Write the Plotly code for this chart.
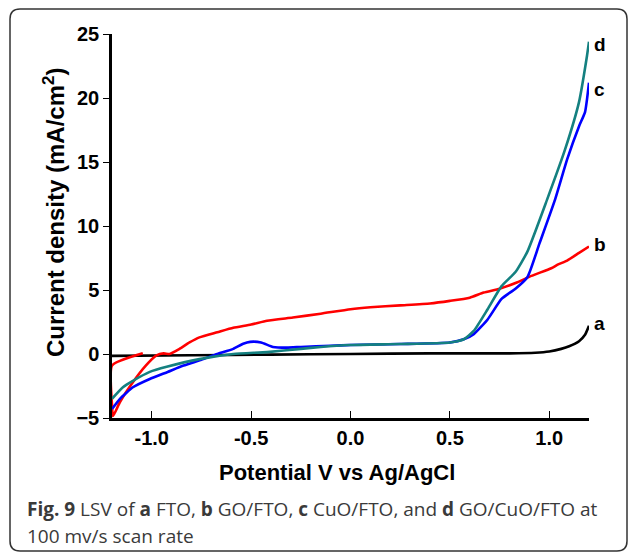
import plotly.graph_objects as go

# ---- data ----
v_a = [-1.2, -0.8, -0.4, 0.0, 0.4, 0.8, 0.93, 1.0, 1.06, 1.1, 1.15, 1.18, 1.2]
j_a = [-0.15, -0.1, -0.05, 0.0, 0.05, 0.05, 0.1, 0.2, 0.4, 0.6, 1.0, 1.5, 2.2]

v_b = [-1.045, -1.2, -1.2, -1.195, -1.16, -1.095, -1.03, -0.976, -0.94, -0.91, -0.86, -0.81,
       -0.76, -0.67, -0.59, -0.5, -0.42, -0.29, -0.15, 0.0, 0.1, 0.25, 0.4, 0.5, 0.6, 0.67,
       0.75, 0.84, 0.91, 1.01, 1.045, 1.09, 1.15, 1.2]
j_b = [0.05, -0.9, -4.0, -4.85, -3.75, -2.2, -0.9, -0.1, 0.05, 0.0, 0.4, 0.9,
       1.3, 1.7, 2.05, 2.3, 2.6, 2.85, 3.15, 3.5, 3.65, 3.8, 3.95, 4.15, 4.4, 4.8,
       5.1, 5.6, 6.1, 6.7, 7.0, 7.3, 7.9, 8.4]

v_c = [-1.2, -1.16, -1.095, -1.01, -0.92, -0.84, -0.75, -0.67, -0.59, -0.54, -0.505, -0.45,
       -0.39, -0.32, -0.25, -0.1, 0.0, 0.25, 0.5, 0.57, 0.62, 0.69, 0.76, 0.83, 0.89, 0.95,
       1.03, 1.09, 1.15, 1.18, 1.2]
j_c = [-4.3, -3.5, -2.6, -1.95, -1.4, -0.9, -0.45, 0.0, 0.4, 0.8, 0.95, 0.9,
       0.55, 0.5, 0.55, 0.65, 0.7, 0.78, 0.9, 1.15, 1.55, 2.7, 4.3, 5.1, 6.0, 8.6,
       12.1, 15.2, 17.8, 18.9, 21.2]

v_d = [-1.2, -1.145, -1.095, -1.01, -0.925, -0.76, -0.59, -0.42, -0.25, -0.15, 0.0, 0.25,
       0.5, 0.57, 0.62, 0.69, 0.76, 0.83, 0.89, 0.99, 1.08, 1.15, 1.19, 1.2]
j_d = [-3.5, -2.6, -2.1, -1.4, -1.0, -0.4, 0.0, 0.15, 0.4, 0.55, 0.7, 0.78,
       0.9, 1.15, 1.8, 3.5, 5.3, 6.4, 8.0, 12.1, 16.0, 19.7, 23.3, 24.4]

x_ticks = [-1.0, -0.5, 0.0, 0.5, 1.0]
x_ticktext = ["-1.0", "-0.5", "0.0", "0.5", "1.0"]
y_ticks = [-5, 0, 5, 10, 15, 20, 25]

series = [
    ("a", v_a, j_a, "#000000", 2),
    ("b", v_b, j_b, "#ff0000", 2),
    ("c", v_c, j_c, "#0000ff", -7),
    ("d", v_d, j_d, "#148080", -3),
]

W, H = 629, 554
L, R, T, B = 112, 589, 34, 418

def px_x(p):
    return (p - L) / (R - L)

def px_y(p):
    return (B - p) / (B - T)

fig = go.Figure()
for name, xs, ys, col, _ in series:
    fig.add_trace(go.Scatter(x=xs, y=ys, mode="lines", name=name,
                             line=dict(color=col, width=2.6, shape="spline", smoothing=0.5),
                             showlegend=False, hoverinfo="skip"))

annotations = []
for name, xs, ys, col, ysh in series:
    annotations.append(dict(x=xs[-1], y=ys[-1], xref="x", yref="y", text="<b>%s</b>" % name,
                            showarrow=False, xanchor="left", yanchor="middle", xshift=3, yshift=ysh,
                            font=dict(family="Liberation Sans, Arial", size=19, color="#000")))

annotations.append(dict(x=px_x(336.5), y=px_y(472), xref="paper", yref="paper",
                        text="<b>Potential V vs Ag/AgCl</b>", showarrow=False,
                        xanchor="center", yanchor="middle",
                        font=dict(family="Liberation Sans, Arial", size=22, color="#000")))
annotations.append(dict(x=px_x(54), y=px_y(213), xref="paper", yref="paper",
                        text="<b>Current density (mA/cm<sup>2</sup>)</b>", showarrow=False,
                        textangle=-90, xanchor="center", yanchor="middle",
                        font=dict(family="Liberation Sans, Arial", size=24, color="#000")))
annotations.append(dict(x=px_x(25), y=px_y(509), xref="paper", yref="paper",
                        text="<b>Fig. 9</b> LSV of <b>a</b> FTO, <b>b</b> GO/FTO, <b>c</b> CuO/FTO, and <b>d</b> GO/CuO/FTO at",
                        showarrow=False, xanchor="left", yanchor="middle", align="left",
                        font=dict(family="Open Sans", size=19, color="#3a3a3a")))
annotations.append(dict(x=px_x(25), y=px_y(536), xref="paper", yref="paper",
                        text="100 mv/s scan rate",
                        showarrow=False, xanchor="left", yanchor="middle", align="left",
                        font=dict(family="Open Sans", size=19, color="#3a3a3a")))

# rounded frame
x0, x1 = px_x(10), px_x(627)
y1, y0 = px_y(9), px_y(551)
rx, ry = 10 / (R - L), 10 / (B - T)
path = (f"M {x0+rx},{y1} L {x1-rx},{y1} Q {x1},{y1} {x1},{y1-ry} L {x1},{y0+ry} "
        f"Q {x1},{y0} {x1-rx},{y0} L {x0+rx},{y0} Q {x0},{y0} {x0},{y0+ry} "
        f"L {x0},{y1-ry} Q {x0},{y1} {x0+rx},{y1} Z")

fig.update_layout(
    width=W, height=H,
    margin=dict(l=L, r=W - R, t=T, b=H - B),
    paper_bgcolor="white", plot_bgcolor="white",
    annotations=annotations,
    shapes=[dict(type="path", xref="paper", yref="paper", path=path,
                 line=dict(color="#333333", width=1.5), layer="below")],
)
fig.update_xaxes(range=[-1.2, 1.2], tickvals=x_ticks, ticktext=x_ticktext,
                 showgrid=False, zeroline=False, showline=True, linecolor="#000", linewidth=2.5,
                 ticks="inside", ticklen=7, tickwidth=1.2, tickcolor="#000",
                 ticklabelstandoff=0,
                 tickfont=dict(family="Liberation Sans, Arial", size=20, color="#000", weight="bold"))
fig.update_yaxes(range=[-5, 25], tickvals=y_ticks,
                 showgrid=False, zeroline=False, showline=True, linecolor="#000", linewidth=2.5,
                 ticks="outside", ticklen=6, tickwidth=1.2, tickcolor="#000",
                 tickfont=dict(family="Liberation Sans, Arial", size=20, color="#000", weight="bold"))

fig.write_html("out.html")
